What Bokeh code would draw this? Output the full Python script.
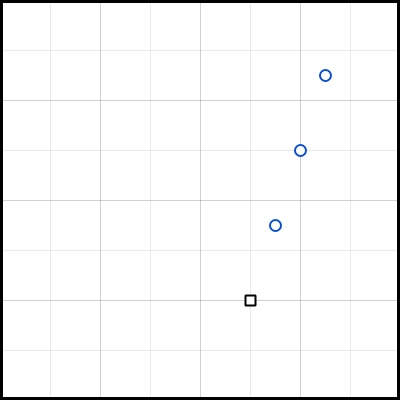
from bokeh.plotting import figure
from bokeh.models import Range1d, FixedTicker
from bokeh.embed import file_html
from bokeh.resources import INLINE

circle_x = [5.5, 6.0, 6.5]
circle_y = [3.5, 5.0, 6.5]
square_x = [5.0]
square_y = [2.0]
major_ticks = [0, 2, 4, 6, 8]
minor_ticks = [1, 3, 5, 7]

p = figure(width=400, height=400, output_backend="svg", toolbar_location=None,
           x_range=Range1d(0, 8), y_range=Range1d(0, 8), min_border=0,
           background_fill_color="white", border_fill_color="white")
p.xaxis.visible = False
p.yaxis.visible = False
p.outline_line_color = "black"
p.outline_line_width = 5
p.xaxis.ticker = FixedTicker(ticks=major_ticks, minor_ticks=minor_ticks)
p.yaxis.ticker = FixedTicker(ticks=major_ticks, minor_ticks=minor_ticks)
for g in (p.xgrid, p.ygrid):
    g.grid_line_color = "black"
    g.grid_line_alpha = 0.18
    g.grid_line_width = 1
    g.minor_grid_line_color = "black"
    g.minor_grid_line_alpha = 0.08
    g.minor_grid_line_width = 1

p.scatter(circle_x, circle_y, marker="circle", size=11, fill_color="white",
          line_color="#0a4fd0", line_width=2)
p.scatter(square_x, square_y, marker="square", size=10, fill_color="white",
          line_color="black", line_width=2)

open("out.html", "w").write(file_html(p, INLINE))
